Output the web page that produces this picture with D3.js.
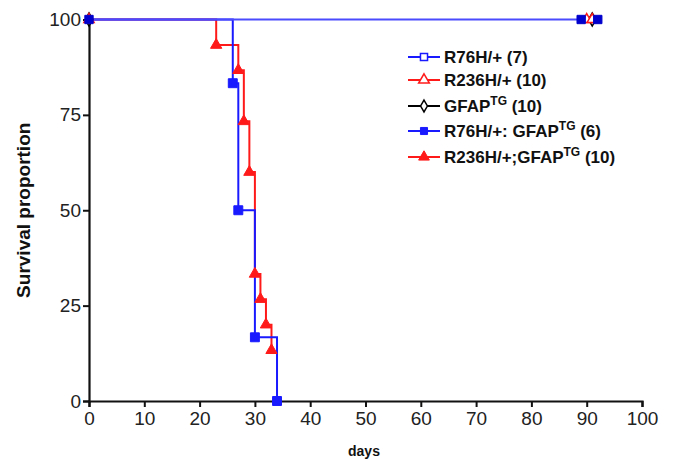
<!DOCTYPE html>
<html>
<head>
<meta charset="utf-8">
<script src="https://cdn.jsdelivr.net/npm/d3@7"></script>
<style>
  body { margin: 0; background: #fff; }
  text { font-family: "Liberation Sans", Arial, sans-serif; }
</style>
</head>
<body>
<script>
// survival data (days, percent)
var r76hDays = [0, 92];
var r76hSurv = [100, 100];
var r76hCensor = [0, 89, 92];

var r236hDays = [0, 92];
var r236hSurv = [100, 100];
var r236hCensor = [0, 90, 91];

var gfapDays = [0, 92];
var gfapSurv = [100, 100];
var gfapCensor = [0, 91];

var r76hTgDays = [0, 26, 27, 30, 34];
var r76hTgSurv = [100, 83.3, 50, 16.7, 0];

var r236hTgDays = [0, 23, 27, 28, 29, 30, 31, 32, 33];
var r236hTgSurv = [100, 93.3, 86.7, 73.3, 60, 33.3, 26.7, 20, 13.3];

var xTicks = [0, 10, 20, 30, 40, 50, 60, 70, 80, 90, 100];
var yTicks = [0, 25, 50, 75, 100];

var legendNames = [
  ["R76H/+ (7)"],
  ["R236H/+ (10)"],
  ["GFAP", "TG", " (10)"],
  ["R76H/+: GFAP", "TG", " (6)"],
  ["R236H/+;GFAP", "TG", " (10)"]
];

var W = 676, H = 460;
var svg = d3.select("body").append("svg").attr("width", W).attr("height", H);

var x = d3.scaleLinear().domain([0, 100]).range([89, 642]);
var y = d3.scaleLinear().domain([0, 100]).range([401, 19.5]);

var blue = "#1a1aff", red = "#ff1a1a";

function zip(a, b) { return a.map(function(d, i) { return [d, b[i]]; }); }

var line = d3.line()
  .x(function(d) { return x(d[0]); })
  .y(function(d) { return y(d[1]); })
  .curve(d3.curveStepAfter);

//Create X axis
var xAxis = svg.append("g")
  .attr("transform", "translate(0," + y(0) + ")")
  .call(d3.axisBottom(x).tickValues(xTicks).tickSize(6).tickPadding(5));
xAxis.selectAll("text").style("font-size", "19px").attr("fill", "#222");

//Create Y axis
var yAxis = svg.append("g")
  .attr("transform", "translate(" + x(0) + ",0)")
  .call(d3.axisLeft(y).tickValues(yTicks).tickSize(6).tickPadding(2));
yAxis.selectAll("text").style("font-size", "19px").attr("fill", "#222");

svg.selectAll(".domain").attr("stroke", "#111").attr("stroke-width", 2.2);
svg.selectAll(".tick line").attr("stroke", "#111").attr("stroke-width", 2);

// marker symbols
function marker(g, type, color, filled, cx, cy, size) {
  var sym = type == "square" ? d3.symbolSquare : type == "triangle" ? d3.symbolTriangle : d3.symbolDiamond;
  g.append("path")
    .attr("d", d3.symbol().type(sym).size(size)())
    .attr("transform", "translate(" + cx + "," + cy + ")")
    .attr("fill", filled ? color : "#fff")
    .attr("stroke", color)
    .attr("stroke-width", filled ? 1 : 1.5);
}

var plot = svg.append("g");

// red filled triangles
var redPts = zip(r236hTgDays, r236hTgSurv);
plot.append("path").attr("d", line(redPts))
  .attr("fill", "none").attr("stroke", red).attr("stroke-width", 2);

// blue filled squares
var bluePts = zip(r76hTgDays, r76hTgSurv);
plot.append("path").attr("d", line(bluePts))
  .attr("fill", "none").attr("stroke", blue).attr("stroke-width", 2);

// overlapping flat curves at 100, drawn on top
plot.append("path").attr("d", line(zip(gfapDays, gfapSurv)))
  .attr("fill", "none").attr("stroke", "#000").attr("stroke-width", 1);
plot.append("path").attr("d", line(zip(r236hDays, r236hSurv)))
  .attr("fill", "none").attr("stroke", red).attr("stroke-width", 1);
plot.append("path").attr("d", line(zip(r76hDays, r76hSurv)))
  .attr("fill", "none").attr("stroke", "#4a4aff").attr("stroke-width", 2);

redPts.slice(1).forEach(function(d) { marker(plot, "triangle", red, true, x(d[0]), y(d[1]), 55); });
bluePts.slice(1).forEach(function(d) { marker(plot, "square", blue, true, x(d[0]), y(d[1]), 80); });

gfapCensor.forEach(function(d) { marker(plot, "diamond", "#000", false, x(d), y(100), 50); });
r236hCensor.forEach(function(d) { marker(plot, "triangle", red, false, x(d), y(100), 45); });
r76hCensor.forEach(function(d) { marker(plot, "square", "#0000cc", true, x(d), y(100), 70); });

// axis titles
svg.append("text")
  .attr("transform", "translate(30," + y(50) + ") rotate(-90)")
  .attr("text-anchor", "middle")
  .style("font-size", "19px").style("font-weight", "bold")
  .attr("fill", "#111")
  .text("Survival proportion");

svg.append("text")
  .attr("x", 364).attr("y", 456)
  .attr("text-anchor", "middle")
  .style("font-size", "14px").style("font-weight", "bold")
  .attr("fill", "#111")
  .text("days");

// legend
var legRows = [57, 80, 106, 131, 157];
var legStyle = [
  ["square", blue, false],
  ["triangle", red, false],
  ["diamond", "#000", false],
  ["square", blue, true],
  ["triangle", red, true]
];
var leg = svg.append("g");
legendNames.forEach(function(parts, i) {
  var ly = legRows[i];
  var st = legStyle[i];
  leg.append("line").attr("x1", 408).attr("x2", 440).attr("y1", ly).attr("y2", ly)
    .attr("stroke", st[1]).attr("stroke-width", 2);
  marker(leg, st[0], st[1], st[2], 424, ly, st[0] == "diamond" ? 40 : 50);
  var t = leg.append("text").attr("x", 444).attr("y", ly + 6)
    .style("font-size", "17px").style("font-weight", "bold").attr("fill", "#111");
  t.append("tspan").text(parts[0]);
  if (parts.length > 1) {
    t.append("tspan").attr("dy", -7).style("font-size", "12px").text(parts[1]);
    t.append("tspan").attr("dy", 7).text(parts[2]);
  }
});
</script>
</body>
</html>
